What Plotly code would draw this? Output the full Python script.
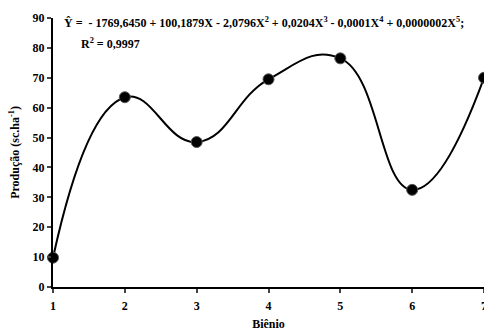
import plotly.graph_objects as go

bienio = [1, 2, 3, 4, 5, 6, 7]
producao = [9.8, 63.5, 48.5, 69.5, 76.5, 32.5, 70.0]
y_ticks = [0, 10, 20, 30, 40, 50, 60, 70, 80, 90]
equation = "Ŷ =  - 1769,6450 + 100,1879X - 2,0796X<sup>2</sup> + 0,0204X<sup>3</sup> - 0,0001X<sup>4</sup> + 0,0000002X<sup>5</sup>;"
r2_text = "R<sup>2</sup> = 0,9997"

font = "Liberation Serif"

fig = go.Figure()
fig.add_trace(go.Scatter(
    x=bienio, y=producao, mode="lines",
    line=dict(color="black", width=2, shape="spline", smoothing=1.3),
    hoverinfo="skip", showlegend=False, cliponaxis=False,
))
fig.add_trace(go.Scatter(
    x=bienio, y=producao, mode="markers",
    marker=dict(color="black", size=11, line=dict(color="#555", width=1)),
    showlegend=False, cliponaxis=False,
))

fig.update_layout(
    width=484, height=334,
    margin=dict(l=53, r=0, t=18, b=47, autoexpand=False),
    paper_bgcolor="white", plot_bgcolor="white",
    font=dict(family=font, color="black", size=12),
    xaxis=dict(
        range=[1, 7], tickvals=bienio, ticks="outside", ticklen=4, tickwidth=2,
        showline=True, linecolor="black", linewidth=2, showgrid=False, zeroline=False,
        tickfont=dict(family=font, size=12, color="black", weight="bold"),
        ticklabeloverflow="allow", ticklabelstandoff=3,
        title=dict(text="<b>Biênio</b>", font=dict(family=font, size=12), standoff=7),
        automargin=False,
    ),
    yaxis=dict(
        range=[0, 90], tickvals=y_ticks, ticks="outside", ticklen=4, tickwidth=2,
        showline=True, linecolor="black", linewidth=2, showgrid=False, zeroline=False,
        tickfont=dict(family=font, size=12, color="black", weight="bold"),
        title=dict(text="<b>Produção (sc.ha<sup>-1</sup>)</b>", font=dict(family=font, size=12), standoff=10),
        automargin=False,
    ),
    annotations=[
        dict(x=0.02, y=1.02, xref="paper", yref="paper", xanchor="left", yanchor="top",
             text="<b>" + equation + "</b>", showarrow=False,
             font=dict(family=font, size=12, color="black")),
        dict(x=0.06, y=0.94, xref="paper", yref="paper", xanchor="left", yanchor="top",
             text="<b>" + r2_text + "</b>", showarrow=False,
             font=dict(family=font, size=12, color="black")),
    ],
)

fig.write_html("out.html", config={"displayModeBar": False},
               post_script="document.body.style.margin='0';")
